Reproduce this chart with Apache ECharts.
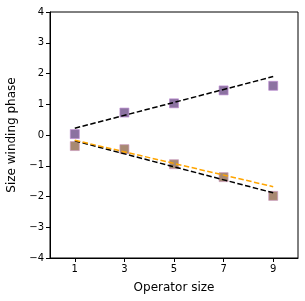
<!DOCTYPE html>
<html><head><meta charset="utf-8">
<script src="https://cdn.jsdelivr.net/npm/echarts@6/dist/echarts.min.js"></script>
<style>html,body{margin:0;padding:0;background:#fff}#c{width:305px;height:301px}</style>
</head><body><div id="c"></div>
<script>
const sizes = [1, 3, 5, 7, 9];
const upperVals = [0.03, 0.73, 1.03, 1.45, 1.6];
const lowerVals = [-0.36, -0.46, -0.95, -1.37, -1.98];
const upperFit = [[1, 0.22], [9, 1.9]];
const lowerFitBlack = [[1, -0.19], [9, -1.88]];
const lowerFitOrange = [[1, -0.17], [9, -1.68]];
const xTicks = [1, 3, 5, 7, 9];

const chart = echarts.init(document.getElementById('c'), null, {renderer: 'canvas'});
const fmt = v => String(v).replace('-', '\u2212');
chart.setOption({
  animation: false,
  grid: {left: 50, right: 7, top: 12, bottom: 43, containLabel: false, outerBoundsMode: 'none'},
  xAxis: {
    type: 'value', min: 0, max: 10, interval: 1,
    name: 'Operator size', nameLocation: 'middle', nameGap: 24,
    nameTextStyle: {fontFamily: 'DejaVu Sans', fontSize: 12, color: '#000'},
    axisLine: {onZero: false, lineStyle: {color: '#000', width: 1}},
    axisTick: {show: true, length: 4, lineStyle: {color: '#000'}, customValues: xTicks},
    axisLabel: {fontFamily: 'DejaVu Sans', fontSize: 10, color: '#000', margin: 6, customValues: xTicks},
    splitLine: {show: false}
  },
  yAxis: {
    type: 'value', min: -4, max: 4, interval: 1,
    name: 'Size winding phase', nameLocation: 'middle', nameGap: 30,
    nameTextStyle: {fontFamily: 'DejaVu Sans', fontSize: 12, color: '#000'},
    axisLine: {show: true, onZero: false, lineStyle: {color: '#000', width: 1}},
    axisTick: {show: true, length: 4, lineStyle: {color: '#000'}},
    axisLabel: {fontFamily: 'DejaVu Sans', fontSize: 10, color: '#000', margin: 6, formatter: fmt},
    splitLine: {show: false}
  },
  series: [
    {type: 'scatter', data: sizes.map((s, i) => [s, upperVals[i]]), symbol: 'rect', symbolSize: 9,
     itemStyle: {color: 'rgba(95,60,125,0.9)', borderColor: 'rgba(190,140,210,0.8)', borderWidth: 1}, z: 2},
    {type: 'scatter', data: sizes.map((s, i) => [s, lowerVals[i]]), symbol: 'rect', symbolSize: 9,
     itemStyle: {color: 'rgba(140,100,70,0.95)', borderColor: 'rgba(200,150,190,0.8)', borderWidth: 1}, z: 2},
    {type: 'line', data: upperFit, symbol: 'none', lineStyle: {color: '#000', width: 1.5, type: [5.5, 2.5]}, z: 5},
    {type: 'line', data: lowerFitBlack, symbol: 'none', lineStyle: {color: '#000', width: 1.5, type: [5.5, 2.5]}, z: 5},
    {type: 'line', data: lowerFitOrange, symbol: 'none', lineStyle: {color: '#FFA500', width: 1.5, type: [5.5, 2.5]}, z: 6}
  ],
  graphic: [{type: 'rect', shape: {x: 50, y: 12, width: 248, height: 246}, style: {fill: 'none', stroke: '#000', lineWidth: 1}, z: 10, silent: true}]
});
</script></body></html>
